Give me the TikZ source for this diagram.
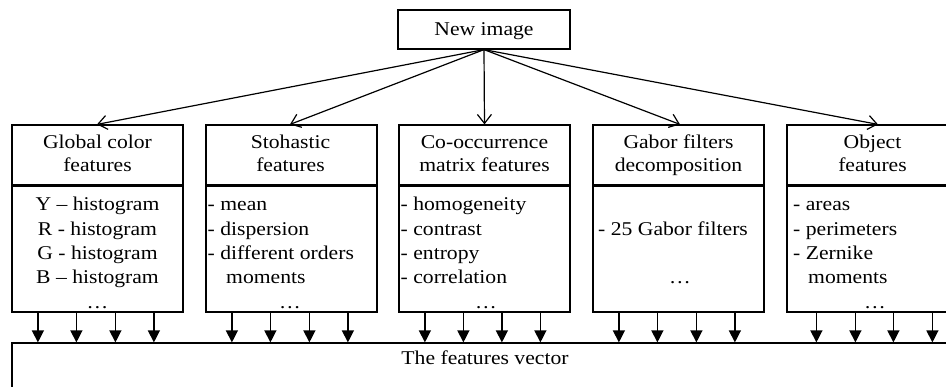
\documentclass[tikz,border=0pt]{standalone}
\usepackage{fontspec}
\setmainfont{Liberation Serif}[FakeStretch=1.11]
\usetikzlibrary{arrows.meta}
\begin{document}
\begin{tikzpicture}[x=1pt,y=-1pt,
  box/.style={draw, line width=1.2pt, inner sep=0pt, minimum width=171pt},
  head/.style={box, minimum height=61pt},
  body/.style={box, minimum height=126pt},
  txt/.style={inner sep=0pt, font=\fontsize{19.5}{24}\selectfont},
  tl/.style={txt, anchor=base},
  ll/.style={txt, anchor=base west},
  topArrow/.style={line width=1.2pt, -{Straight Barb[length=9pt,width=14pt,line width=1.2pt]}},
  botArrow/.style={line width=1.2pt, -{Triangle[length=12pt,width=12pt]}},
  sep/.style={line width=2.6pt}]
\useasboundingbox (0,0) rectangle (946,386);
\clip (0,0) rectangle (946,386);
\fill[white] (0,0) rectangle (946,386);

% New image
\node[box, minimum width=172pt, minimum height=39pt] (new) at (484,29.5) {};
\node[tl] (newt) at (484,35) {New image};

% features vector
\node[draw, line width=1.2pt, inner sep=0pt, minimum width=946pt, minimum height=80pt] (fv) at (485,383) {};
\node[tl] (fvt) at (485,364) {The features vector};

% column 1
\node[head] (h1) at (97.5,155.5) {};
\node[body] (b1) at (97.5,249) {};
\draw[sep] (b1.north west) -- (b1.north east);
\node[tl] (h1a) at (97.5,148) {Global color};
\node[tl] (h1b) at (97.5,171) {features};
\node[tl] (b1a) at (97.5,210.7) {Y \textendash\ histogram};
\node[tl] (b1b) at (97.5,235.1) {R - histogram};
\node[tl] (b1c) at (97.5,259.5) {G - histogram};
\node[tl] (b1d) at (97.5,283.9) {B \textendash\ histogram};
\node[tl] (b1e) at (97.5,308.3) {…};

% column 2
\node[head] (h2) at (291.5,155.5) {};
\node[body] (b2) at (291.5,249) {};
\draw[sep] (b2.north west) -- (b2.north east);
\node[tl] (h2a) at (290.5,148) {Stohastic};
\node[tl] (h2b) at (290.5,171) {features};
\node[ll] (b2a) at (207.5,210.7) {- mean};
\node[ll] (b2b) at (207.5,235.1) {- dispersion};
\node[ll] (b2c) at (207.5,259.5) {- different orders};
\node[ll] (b2d) at (226,283.9) {moments};
\node[tl] (b2e) at (290,308.3) {…};

% column 3
\node[head] (h3) at (484.5,155.5) {};
\node[body] (b3) at (484.5,249) {};
\draw[sep] (b3.north west) -- (b3.north east);
\node[tl] (h3a) at (484.5,148) {Co-occurrence};
\node[tl] (h3b) at (484.5,171) {matrix features};
\node[ll] (b3a) at (400.5,210.7) {- homogeneity};
\node[ll] (b3b) at (400.5,235.1) {- contrast};
\node[ll] (b3c) at (400.5,259.5) {- entropy};
\node[ll] (b3d) at (400.5,283.9) {- correlation};
\node[tl] (b3e) at (486,308.3) {…};

% column 4
\node[head] (h4) at (678.5,155.5) {};
\node[body] (b4) at (678.5,249) {};
\draw[sep] (b4.north west) -- (b4.north east);
\node[tl] (h4a) at (678.5,148) {Gabor filters};
\node[tl] (h4b) at (678.5,171) {decomposition};
\node[ll] (b4a) at (598,235.1) {- 25 Gabor filters};
\node[tl] (b4b) at (680,283.9) {…};

% column 5
\node[head] (h5) at (872.5,155.5) {};
\node[body] (b5) at (872.5,249) {};
\draw[sep] (b5.north west) -- (b5.north east);
\node[tl] (h5a) at (872.5,148) {Object};
\node[tl] (h5b) at (872.5,171) {features};
\node[ll] (b5a) at (793,210.7) {- areas};
\node[ll] (b5b) at (793,235.1) {- perimeters};
\node[ll] (b5c) at (793,259.5) {- Zernike};
\node[ll] (b5d) at (808,283.9) {moments};
\node[tl] (b5e) at (875,308.3) {…};

% arrows from new image
\draw[topArrow] (new.south) -- ([xshift=-0.5pt]h1.north);
\draw[topArrow] (new.south) -- ([xshift=-1.5pt]h2.north);
\draw[topArrow] (new.south) -- (h3.north);
\draw[topArrow] (new.south) -- ([xshift=1.5pt]h4.north);
\draw[topArrow] (new.south) -- ([xshift=5.5pt]h5.north);

% arrows down into the features vector
\foreach \b in {b1,b2,b4} {
  \foreach \d in {26.5,65,104,142.5} {
    \draw[botArrow] ([xshift=\d pt]\b.south west) -- ([xshift=\d pt]\b.south west |- fv.north);
  }
}
\foreach \d in {26.5,65} {
  \draw[botArrow] ([xshift=\d pt]b3.south west) -- ([xshift=\d pt]b3.south west |- fv.north);
}
\foreach \d in {103.5,142} {
  \draw[botArrow] ([xshift=\d pt]b3.south west) -- ([xshift=\d pt]b3.south west |- fv.north);
}
\foreach \d in {30,69,107,146} {
  \draw[botArrow] ([xshift=\d pt]b5.south west) -- ([xshift=\d pt]b5.south west |- fv.north);
}
\end{tikzpicture}
\end{document}
